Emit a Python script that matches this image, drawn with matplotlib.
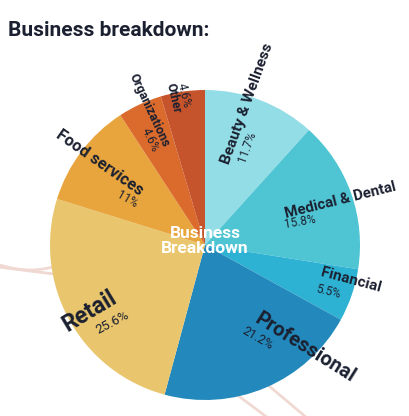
import numpy as np
import matplotlib.pyplot as plt

plt.rcParams['font.family'] = ['Roboto', 'DejaVu Sans']

# data
categories = ['Beauty & Wellness', 'Medical & Dental', 'Financial', 'Professional',
              'Retail', 'Food services', 'Organizations', 'Other']
shares = [11.7, 15.8, 5.5, 21.2, 25.6, 11, 4.6, 4.6]
pct_labels = ['11.7%', '15.8%', '5.5%', '21.2%', '25.6%', '11%', '4.6%', '4.6%']
colors = ['#93dde6', '#4fc5d3', '#2db2d3', '#2389bc',
          '#e9c66d', '#e8a53d', '#db6a2d', '#c5532b']

# label layout, in pixels from top-left: (x, y, rotation, size)
name_pos = [(247, 104, 70, 11), (340, 200, 14, 10.8), (351, 280, -15, 11),
            (305, 348, -32, 14.5), (90, 311, 31, 16.5), (100, 163, -35, 11.8),
            (149, 110, -65, 9.2), (173, 98, -77, 8.8)]
pct_pos = [(247, 147, 70, 8.5), (300, 222, 10, 8.5), (328, 292, -14, 8.5),
           (258, 338, -30, 9), (113, 323, 28, 9.5), (127, 199, -30, 8.5),
           (150, 140, -65, 8.5), (184, 95, -77, 8.5)]

W, H = 409, 416
fig = plt.figure(figsize=(W / 100, H / 100), dpi=100)
ax = fig.add_axes([0, 0, 1, 1])

cx, cy, r = 205, H - 245, 155

# faint decorative curves behind the pie
t = np.linspace(0, 1, 50)
line_col = '#efd9d2'
ax.plot(-10 + 80 * t, H - (262 + 8 * np.sin(np.pi * t)), color=line_col, lw=2, zorder=0)
ax.plot(-10 + 80 * t, H - (266 + 10 * t), color=line_col, lw=2, zorder=0)
ax.plot(228 + 40 * t, H - (388 + 30 * t), color=line_col, lw=2, zorder=0)
ax.plot(262 + 45 * t, H - (380 + 38 * t), color=line_col, lw=2, zorder=0)

ax.pie(shares, colors=colors, startangle=90, counterclock=False,
       center=(cx, cy), radius=r, frame=True,
       wedgeprops=dict(linewidth=0))
ax.set_xlim(0, W)
ax.set_ylim(0, H)
ax.set_aspect('equal')
ax.axis('off')

text_col = '#1b2030'
for name, (x, y, rot, size) in zip(categories, name_pos):
    ax.text(x, H - y, name, rotation=rot, rotation_mode='anchor',
            ha='center', va='center', fontsize=size, fontweight='bold',
            color=text_col)
for lab, (x, y, rot, size) in zip(pct_labels, pct_pos):
    ax.text(x, H - y, lab, rotation=rot, rotation_mode='anchor',
            ha='center', va='center', fontsize=size, color=text_col)

ax.text(cx, cy + 4, 'Business\nBreakdown', ha='center', va='center',
        fontsize=12.5, fontweight='bold', color='white', linespacing=0.95)

fig.text(8 / W, 1 - 30 / H, 'Business breakdown:', ha='left', va='center',
         fontsize=15, fontweight='bold', color=text_col)

fig.savefig('out.png', dpi=100)
